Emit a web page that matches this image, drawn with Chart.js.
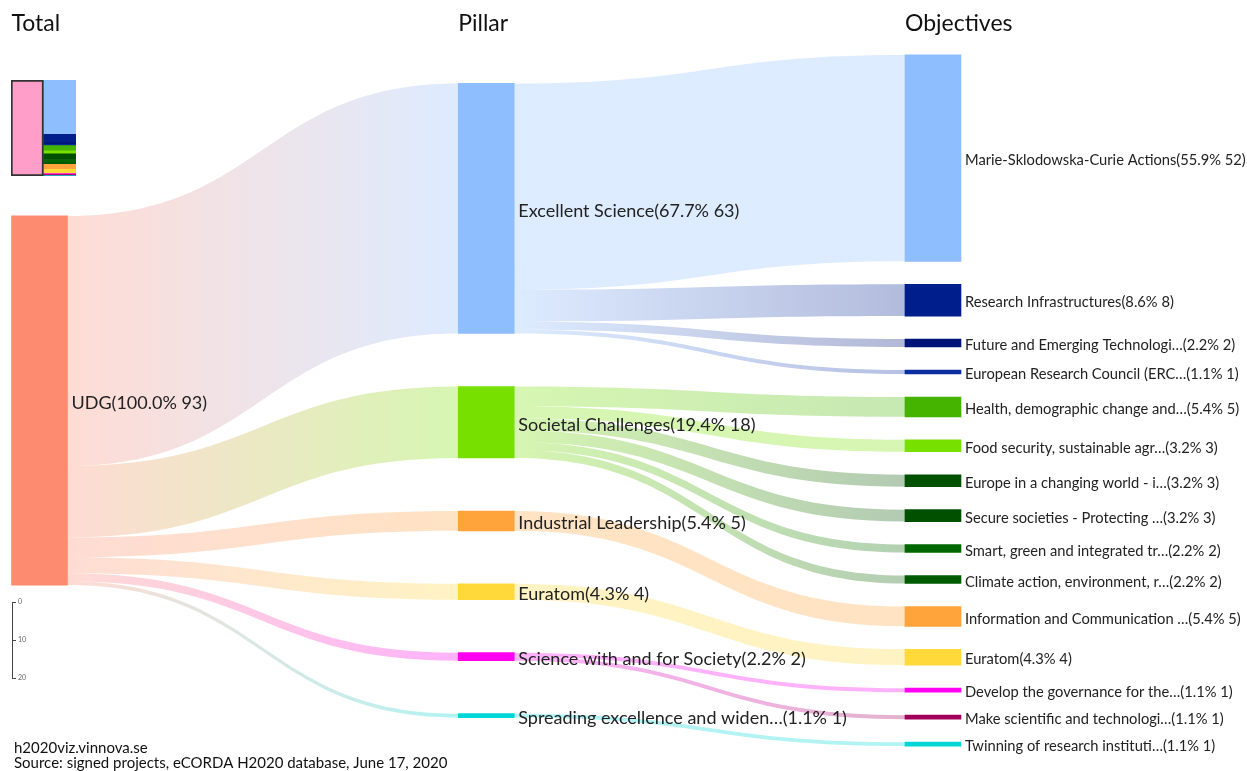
<!DOCTYPE html>
<html>
<head>
<meta charset="utf-8">
<script src="https://cdn.jsdelivr.net/npm/chart.js@4.4.1/dist/chart.umd.min.js"></script>
<style>
  body { margin: 0; background: #fff; font-family: Lato, sans-serif; }
  #wrap { position: relative; width: 1247px; height: 771px; overflow: hidden; }
  #sankey { position: absolute; left: 0; top: 0; }
  #mini { position: absolute; left: 11px; top: 79px; }
  #scale { position: absolute; left: 0; top: 596px; }
</style>
</head>
<body>
<div id="wrap">
  <canvas id="sankey" width="1247" height="771"></canvas>
  <canvas id="mini" width="65" height="98"></canvas>
  <canvas id="scale" width="40" height="96"></canvas>
</div>
<script>
// data
const columnTitles = ['Total', 'Pillar', 'Objectives'];
const footerLines = ['h2020viz.vinnova.se', 'Source: signed projects, eCORDA H2020 database, June 17, 2020'];

const totalNames = ['UDG'];
const totalValues = [93];

const pillarNames = ['Excellent Science', 'Societal Challenges', 'Industrial Leadership', 'Euratom',
  'Science with and for Society', 'Spreading excellence and widen…'];
const pillarValues = [63, 18, 5, 4, 2, 1];

const objectiveNames = ['Marie-Sklodowska-Curie Actions', 'Research Infrastructures', 'Future and Emerging Technologi…',
  'European Research Council (ERC…', 'Health, demographic change and…', 'Food security, sustainable agr…',
  'Europe in a changing world - i…', 'Secure societies - Protecting …', 'Smart, green and integrated tr…',
  'Climate action, environment, r…', 'Information and Communication …', 'Euratom',
  'Develop the governance for the…', 'Make scientific and technologi…', 'Twinning of research instituti…'];
const objectiveValues = [52, 8, 2, 1, 5, 3, 3, 3, 2, 2, 5, 4, 1, 1, 1];
const objectivePillar = [0, 0, 0, 0, 1, 1, 1, 1, 1, 1, 2, 3, 4, 4, 5];

const scaleTicks = [0, 10, 20];

// colours
const totalColors = ['#fd8b70'];
const pillarColors = ['#8fbeff', '#77e000', '#ffa33a', '#ffd83a', '#ff00f0', '#00d6d6'];
const objectiveColors = ['#8fbeff', '#001e8c', '#001478', '#0a2ea0', '#44b400', '#77e000', '#005000',
  '#005000', '#006600', '#005a00', '#ffa33a', '#ffd83a', '#ff00f0', '#a0005a', '#00d6d6'];

// layout (units = projects, 3.97 px each)
const PX_PER_UNIT = 3.97;
const Y_MAX = 771 / PX_PER_UNIT;
const CENTER = 400.5 / PX_PER_UNIT;
const GAPS = [0, 53 / PX_PER_UNIT, 23 / PX_PER_UNIT];
const BAR_W = 56;
const grand = totalValues.reduce((a, b) => a + b, 0);

function layoutColumn(col, names, values, colors) {
  const gap = GAPS[col];
  const span = values.reduce((a, b) => a + b, 0) + gap * (values.length - 1);
  let top = CENTER - span / 2;
  return values.map((v, i) => {
    const n = { col, name: names[i], value: v, color: colors[i], top, outY: top, inY: top };
    top += v + gap;
    return n;
  });
}

const columns = [
  layoutColumn(0, totalNames, totalValues, totalColors),
  layoutColumn(1, pillarNames, pillarValues, pillarColors),
  layoutColumn(2, objectiveNames, objectiveValues, objectiveColors)
];
const nodes = columns.flat();

const links = [];
function addLink(from, to, value) {
  links.push({ from, to, value, sy: from.outY, ty: to.inY });
  from.outY += value;
  to.inY += value;
}
columns[1].forEach(p => addLink(columns[0][0], p, p.value));
columns[2].forEach((o, i) => addLink(columns[1][objectivePillar[i]], o, o.value));

function rgba(hex, a) {
  const n = parseInt(hex.slice(1), 16);
  return `rgba(${n >> 16},${(n >> 8) & 255},${n & 255},${a})`;
}

const sankeyPlugin = {
  id: 'sankeyPlugin',
  beforeDatasetsDraw(chart) {
    const { ctx, scales: { x, y } } = chart;
    const half = BAR_W / 2;
    ctx.save();
    links.forEach(l => {
      const x0 = x.getPixelForValue(l.from.col) + half;
      const x1 = x.getPixelForValue(l.to.col) - half;
      const a0 = y.getPixelForValue(l.sy), b0 = y.getPixelForValue(l.sy + l.value);
      const a1 = y.getPixelForValue(l.ty), b1 = y.getPixelForValue(l.ty + l.value);
      const xm = (x0 + x1) / 2;
      const g = ctx.createLinearGradient(x0, 0, x1, 0);
      g.addColorStop(0, rgba(l.from.color, 0.3));
      g.addColorStop(1, rgba(l.to.color, 0.3));
      ctx.fillStyle = g;
      ctx.beginPath();
      ctx.moveTo(x0, a0);
      ctx.bezierCurveTo(xm, a0, xm, a1, x1, a1);
      ctx.lineTo(x1, b1);
      ctx.bezierCurveTo(xm, b1, xm, b0, x0, b0);
      ctx.closePath();
      ctx.fill();
    });
    ctx.restore();
  },
  afterDatasetsDraw(chart) {
    const { ctx, scales: { x, y } } = chart;
    const half = BAR_W / 2;
    ctx.save();
    ctx.fillStyle = '#111';
    ctx.textBaseline = 'alphabetic';
    ctx.font = '23px Lato';
    columnTitles.forEach((t, c) => ctx.fillText(t, x.getPixelForValue(c) - half, 31));

    ctx.font = '15px Lato';
    ctx.fillText(footerLines[0], 14, 753);
    ctx.fillText(footerLines[1], 14, 768);

    ctx.fillStyle = '#222';
    ctx.textBaseline = 'middle';
    nodes.forEach(n => {
      ctx.font = n.col === 2 ? '14.7px Lato' : '18px Lato';
      const pct = (n.value / grand * 100).toFixed(1);
      const px = x.getPixelForValue(n.col) + half + 4;
      const py = y.getPixelForValue(n.top + n.value / 2);
      ctx.fillText(`${n.name}(${pct}% ${n.value})`, px, py + 2.5);
    });
    ctx.restore();
  }
};

new Chart(document.getElementById('sankey'), {
  type: 'bar',
  data: {
    datasets: [{
      data: nodes.map(n => ({ x: n.col, y: [n.top, n.top + n.value] })),
      backgroundColor: nodes.map(n => n.color),
      borderWidth: 0,
      barThickness: BAR_W
    }]
  },
  options: {
    responsive: false,
    animation: false,
    layout: { padding: 0 },
    plugins: { legend: { display: false }, tooltip: { enabled: false } },
    scales: {
      x: { type: 'linear', min: -0.08842, max: 2.7029, offset: false, display: false },
      y: { type: 'linear', min: 0, max: Y_MAX, reverse: true, display: false }
    }
  },
  plugins: [sankeyPlugin]
});

// overview strip in the top-left corner
const miniSets = [{
  data: [grand, null],
  backgroundColor: '#ff9ec8',
  borderColor: '#333',
  borderWidth: 2,
  borderSkipped: false
}].concat(objectiveValues.map((v, i) => ({
  data: [null, v],
  backgroundColor: objectiveColors[i],
  borderWidth: 0
})));

new Chart(document.getElementById('mini'), {
  type: 'bar',
  data: { labels: ['view', 'objectives'], datasets: miniSets },
  options: {
    responsive: false,
    animation: false,
    layout: { padding: { top: 1, bottom: 1 } },
    datasets: { bar: { categoryPercentage: 1, barPercentage: 1, stack: 's' } },
    plugins: { legend: { display: false }, tooltip: { enabled: false } },
    scales: {
      x: { display: false, stacked: true },
      y: { display: false, stacked: true, min: 0, max: grand, reverse: true }
    }
  }
});

// size scale at the bottom-left
new Chart(document.getElementById('scale'), {
  type: 'bar',
  data: { labels: [''], datasets: [{ data: [] }] },
  options: {
    responsive: false,
    animation: false,
    layout: { padding: { top: 6, bottom: 14, left: 0, right: 0 } },
    plugins: { legend: { display: false }, tooltip: { enabled: false } },
    scales: {
      x: { display: false },
      y: {
        position: 'right',
        min: scaleTicks[0],
        max: scaleTicks[scaleTicks.length - 1],
        reverse: true,
        afterFit: s => { s.width = 28; },
        afterBuildTicks: s => { s.ticks = scaleTicks.map(v => ({ value: v })); },
        border: { display: true, color: '#444', width: 1 },
        grid: { drawOnChartArea: false, drawTicks: true, tickLength: 4, color: '#444' },
        ticks: { font: { size: 7, family: 'Lato' }, color: '#666', padding: 2 }
      }
    }
  }
});
</script>
</body>
</html>
